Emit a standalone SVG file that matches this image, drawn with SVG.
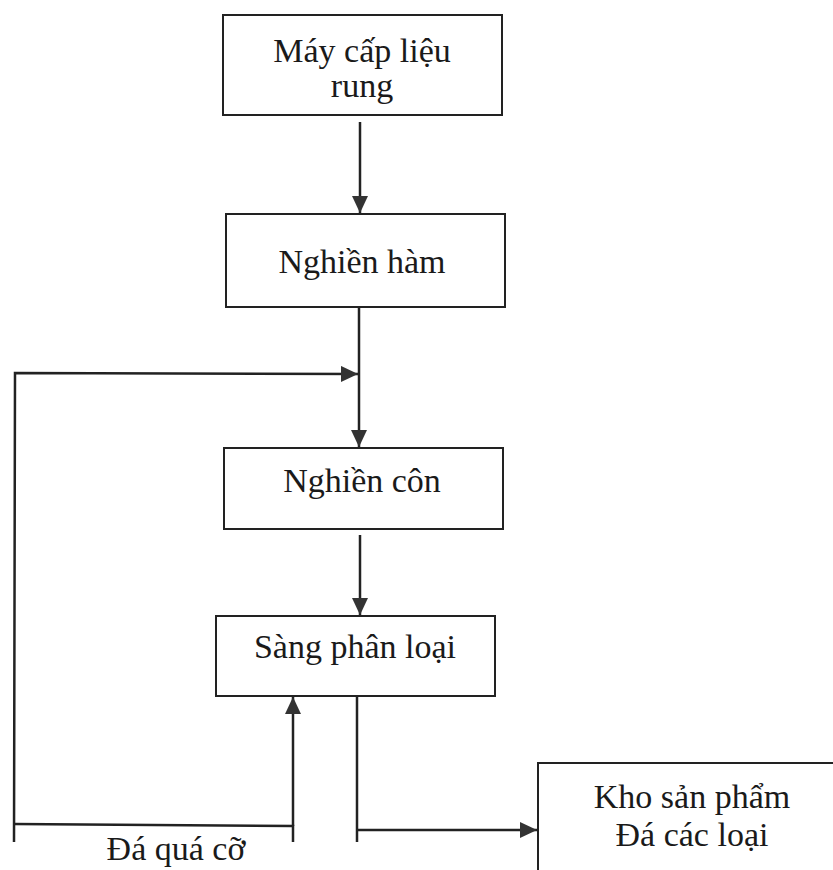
<svg xmlns="http://www.w3.org/2000/svg" width="833" height="870" viewBox="0 0 833 870">
<style>
.box{fill:#fff;stroke:#222;stroke-width:2}
.t{font-family:"Liberation Serif","Times New Roman",serif;font-size:34px;fill:#1a1a1a;text-anchor:middle}
.c{fill:none;stroke:#222;stroke-width:2.5}
</style>
<defs>
<marker id="ah" markerUnits="userSpaceOnUse" markerWidth="18" markerHeight="16" refX="17" refY="8" orient="auto">
<path d="M0,0 L17,8 L0,16 Z" fill="#333"/>
</marker>
</defs>
<rect width="833" height="870" fill="#fff"/>
<g id="n1"><rect class="box" x="223" y="15" width="279" height="100"/>
<text class="t" x="362" y="62">Máy cấp liệu</text><text class="t" x="362" y="97">rung</text></g>
<g id="n2"><rect class="box" x="226" y="214" width="279" height="93"/>
<text class="t" x="362" y="273">Nghiền hàm</text></g>
<g id="n3"><rect class="box" x="224" y="448" width="279" height="81"/>
<text class="t" x="362" y="492">Nghiền côn</text></g>
<g id="n4"><rect class="box" x="216" y="616" width="279" height="80"/>
<text class="t" x="355" y="658">Sàng phân loại</text></g>
<g id="n5"><rect class="box" x="538" y="763" width="310" height="130"/>
<text class="t" x="692" y="808">Kho sản phẩm</text><text class="t" x="692" y="846">Đá các loại</text></g>
<g id="connectors">
<line class="c" x1="360" y1="122" x2="360" y2="213" marker-end="url(#ah)"/>
<line class="c" x1="359" y1="307" x2="359" y2="447" marker-end="url(#ah)"/>
<polyline class="c" points="14,842 15,373 358,374" marker-end="url(#ah)"/>
<line class="c" x1="360" y1="535" x2="360" y2="615" marker-end="url(#ah)"/>
<polyline class="c" points="14,824 293,826 293,842"/>
<line class="c" x1="293" y1="826" x2="293" y2="697" marker-end="url(#ah)"/>
<polyline class="c" points="357,696 357,842"/>
<line class="c" x1="357" y1="830" x2="537" y2="830" marker-end="url(#ah)"/>
<text class="t" x="176" y="860">Đá quá cỡ</text>
</g>
</svg>
